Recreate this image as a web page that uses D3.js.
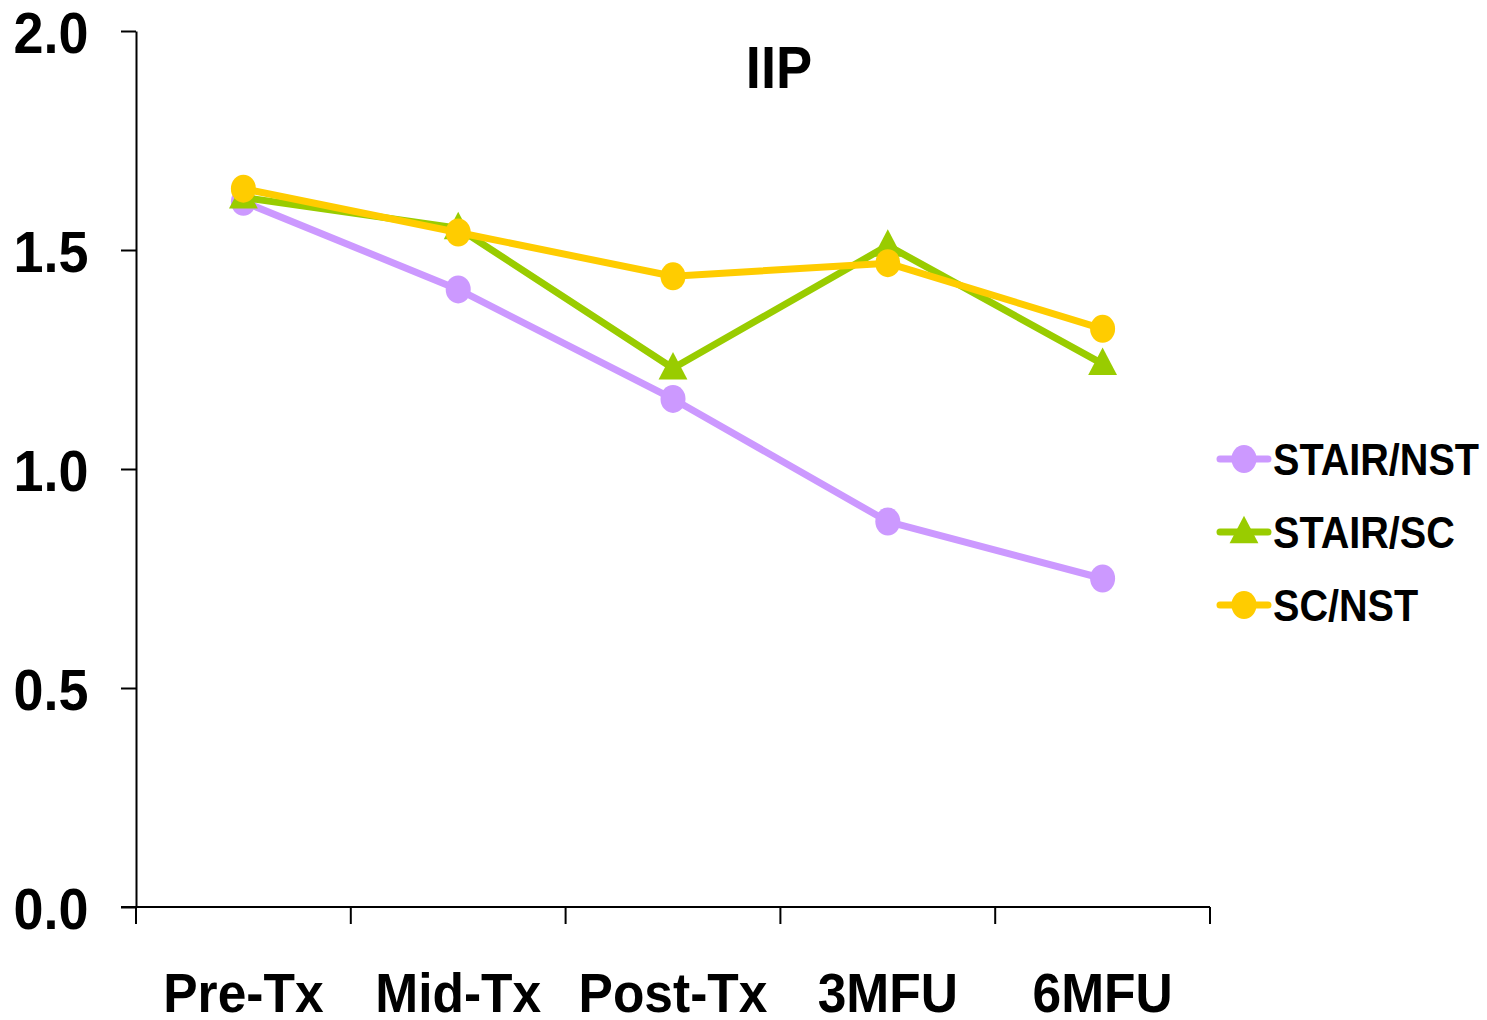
<!DOCTYPE html>
<html>
<head>
<meta charset="utf-8">
<script src="https://cdn.jsdelivr.net/npm/d3@7"></script>
<style>
  body { margin: 0; background: #fff; }
  text { font-family: "Liberation Sans", Arial, sans-serif; font-weight: bold; }
</style>
</head>
<body>
<script>
// data
categories = ["Pre-Tx", "Mid-Tx", "Post-Tx", "3MFU", "6MFU"]
seriesNames = ["STAIR/NST", "STAIR/SC", "SC/NST"]
stairNst = [1.61, 1.41, 1.16, 0.88, 0.75]
stairSc = [1.62, 1.55, 1.23, 1.51, 1.24]
scNst = [1.64, 1.54, 1.44, 1.47, 1.32]
yTicks = [0, 0.5, 1.0, 1.5, 2.0]

series = [
  {name: seriesNames[0], values: stairNst, color: "#cc99ff", shape: "circle"},
  {name: seriesNames[1], values: stairSc, color: "#99cc00", shape: "triangle"},
  {name: seriesNames[2], values: scNst, color: "#ffcc00", shape: "circle"}
]

width = 1487
height = 1020
margin = {top: 31, right: 277, bottom: 113, left: 136}

var svg = d3.select("body").append("svg")
  .attr("width", width)
  .attr("height", height)

x = d3.scaleBand()
  .domain(categories)
  .range([margin.left, width - margin.right])
  .paddingInner(0).paddingOuter(0)

y = d3.scaleLinear()
  .domain([0, 2])
  .range([height - margin.bottom, margin.top])

// y axis
var gy = svg.append("g")
  .attr("transform", "translate(" + margin.left + ",0)")
  .call(d3.axisLeft(y).tickValues(yTicks).tickFormat(d3.format(".1f")).tickSize(15).tickSizeOuter(0).tickPadding(0))
gy.select(".domain").attr("stroke-width", 2)
gy.selectAll(".tick line").attr("stroke-width", 2)
gy.selectAll(".tick text")
  .attr("x", -51)
  .attr("dy", "0.37em")
  .attr("font-size", 58)
  .attr("fill", "#000")
  .attr("font-family", null)
  .attr("transform", "scale(0.93,1)")

// x axis
var bandEdges = categories.map(c => x(c)).concat([x.range()[1]])
var gx = svg.append("g")
  .attr("transform", "translate(0," + y(0) + ")")
gx.append("line")
  .attr("x1", margin.left - 15).attr("x2", x.range()[1])
  .attr("stroke", "#000").attr("stroke-width", 2)
gx.selectAll(".xtick")
  .data(bandEdges)
  .join("line")
  .attr("x1", d => d).attr("x2", d => d)
  .attr("y1", 0).attr("y2", 17)
  .attr("stroke", "#000").attr("stroke-width", 2)

svg.append("g")
  .selectAll("text")
  .data(categories)
  .join("text")
  .attr("text-anchor", "middle")
  .attr("font-size", 56)
  .attr("transform", d => "translate(" + (x(d) + x.bandwidth() / 2) + ",1012) scale(0.92,1)")
  .text(d => d)

// title
svg.append("text")
  .attr("text-anchor", "middle")
  .attr("font-size", 59)
  .attr("transform", "translate(779,88) scale(0.92,1)")
  .text("IIP")

var cx = c => x(c) + x.bandwidth() / 2
var line = d3.line()
  .x((d, i) => cx(categories[i]))
  .y(d => y(d))

var triangle = d3.symbol().type(d3.symbolTriangle).size(360)

function drawMarker(g, shape, color) {
  if (shape === "circle") {
    g.append("ellipse").attr("rx", 12.5).attr("ry", 14).attr("fill", color)
  } else {
    g.append("path").attr("d", triangle).attr("fill", color).attr("transform", "translate(0,2) scale(1,1.1)")
  }
}

series.forEach(s => {
  var g = svg.append("g")
  g.append("path")
    .datum(s.values)
    .attr("fill", "none")
    .attr("stroke", s.color)
    .attr("stroke-width", 7)
    .attr("stroke-linejoin", "round")
    .attr("d", line)
  g.selectAll("g.marker")
    .data(s.values)
    .join("g")
    .attr("class", "marker")
    .attr("transform", (d, i) => "translate(" + cx(categories[i]) + "," + y(d) + ")")
    .each(function () { drawMarker(d3.select(this), s.shape, s.color) })
})

// legend
var legend = svg.append("g")
  .selectAll("g")
  .data(series)
  .join("g")
  .attr("transform", (d, i) => "translate(1218," + (459 + i * 73) + ")")
legend.append("line")
  .attr("x1", 2).attr("x2", 50)
  .attr("stroke", d => d.color)
  .attr("stroke-width", 7)
  .attr("stroke-linecap", "round")
legend.append("g")
  .attr("transform", "translate(26,0)")
  .each(function (d) { drawMarker(d3.select(this), d.shape, d.color) })
legend.append("text")
  .attr("font-size", 44)
  .attr("dy", "0.36em")
  .attr("transform", "translate(55,0) scale(0.9,1)")
  .text(d => d.name)
</script>
</body>
</html>
